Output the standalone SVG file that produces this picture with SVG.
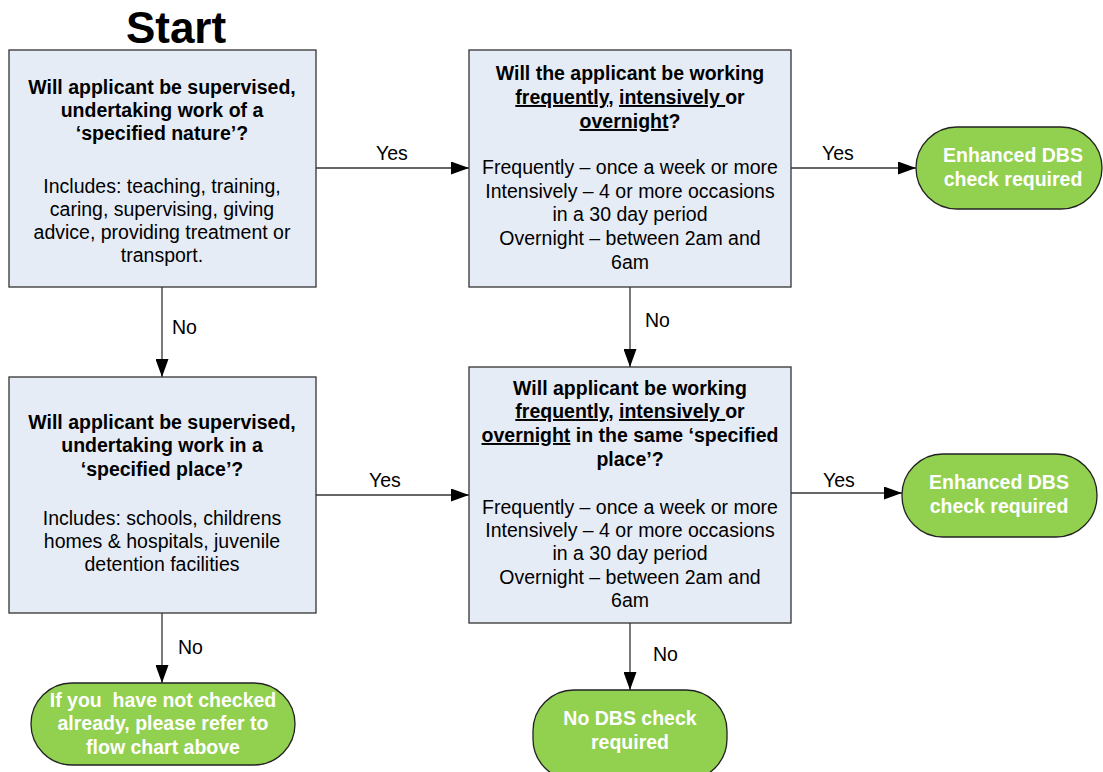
<svg xmlns="http://www.w3.org/2000/svg" width="1103" height="772" viewBox="0 0 1103 772">
<style>
.box{fill:#E6ECF6;stroke:#333;stroke-width:1.3}
.term{fill:#92D050;stroke:#222;stroke-width:1.3}
text{font-family:"Liberation Sans",Arial,sans-serif;font-size:19.5px;fill:#000;text-anchor:middle}
.b{font-weight:bold}
.w{font-weight:bold;fill:#fff}
.lbl{text-anchor:start}
.conn{stroke:#333;stroke-width:1.3;fill:none;marker-end:url(#ah)}
</style>
<defs>
<marker id="ah" markerWidth="18" markerHeight="13" refX="18" refY="6.5" viewBox="0 0 18 13" markerUnits="userSpaceOnUse" orient="auto">
<path d="M0,0 L18,6.5 L0,13 z" fill="#000"/>
</marker>
</defs>
<rect width="1103" height="772" fill="#fff"/>
<text x="176" y="43" class="b" style="font-size:44px">Start</text>

<g id="connectors">
<path class="conn" d="M316,168 H469"/>
<path class="conn" d="M791,168 H916"/>
<path class="conn" d="M162,287 V377"/>
<path class="conn" d="M630,287 V367"/>
<path class="conn" d="M316,495 H469"/>
<path class="conn" d="M791,493 H902"/>
<path class="conn" d="M162,613 V683"/>
<path class="conn" d="M630,623 V690"/>
<text x="376" y="160" class="lbl">Yes</text>
<text x="822" y="160" class="lbl">Yes</text>
<text x="172" y="334" class="lbl">No</text>
<text x="645" y="327" class="lbl">No</text>
<text x="369" y="487" class="lbl">Yes</text>
<text x="823" y="487" class="lbl">Yes</text>
<text x="178" y="654" class="lbl">No</text>
<text x="653" y="661" class="lbl">No</text>
</g>

<g id="q1">
<rect class="box" x="9" y="50" width="307" height="237"/>
<text class="b"><tspan x="162" y="94">Will applicant be supervised,</tspan><tspan x="162" y="117">undertaking work of a</tspan><tspan x="162" y="140">‘specified nature’?</tspan></text>
<text><tspan x="162" y="193">Includes: teaching, training,</tspan><tspan x="162" y="216">caring, supervising, giving</tspan><tspan x="162" y="239">advice, providing treatment or</tspan><tspan x="162" y="262">transport.</tspan></text>
</g>

<g id="q2">
<rect class="box" x="469" y="50" width="322" height="237"/>
<text class="b"><tspan x="630" y="80">Will the applicant be working</tspan><tspan x="630" y="104"><tspan text-decoration="underline">frequently</tspan>, <tspan text-decoration="underline">intensively </tspan>or</tspan><tspan x="630" y="128"><tspan text-decoration="underline">overnight</tspan>?</tspan></text>
<text><tspan x="630" y="174">Frequently – once a week or more</tspan><tspan x="630" y="198">Intensively – 4 or more occasions</tspan><tspan x="630" y="221">in a 30 day period</tspan><tspan x="630" y="245">Overnight – between 2am and</tspan><tspan x="630" y="269">6am</tspan></text>
</g>

<g id="t1">
<rect class="term" x="916" y="127" width="186" height="82" rx="41"/>
<text class="w"><tspan x="1013" y="162">Enhanced DBS</tspan><tspan x="1013" y="186">check required</tspan></text>
</g>

<g id="q3">
<rect class="box" x="9" y="377" width="307" height="236"/>
<text class="b"><tspan x="162" y="429">Will applicant be supervised,</tspan><tspan x="162" y="452">undertaking work in a</tspan><tspan x="162" y="476">‘specified place’?</tspan></text>
<text><tspan x="162" y="525">Includes: schools, childrens</tspan><tspan x="162" y="548">homes &amp; hospitals, juvenile</tspan><tspan x="162" y="571">detention facilities</tspan></text>
</g>

<g id="q4">
<rect class="box" x="469" y="367" width="322" height="256"/>
<text class="b"><tspan x="630" y="395">Will applicant be working</tspan><tspan x="630" y="418"><tspan text-decoration="underline">frequently</tspan>, <tspan text-decoration="underline">intensively </tspan>or</tspan><tspan x="630" y="442"><tspan text-decoration="underline">overnight</tspan> in the same ‘specified</tspan><tspan x="630" y="466">place’?</tspan></text>
<text><tspan x="630" y="514">Frequently – once a week or more</tspan><tspan x="630" y="537">Intensively – 4 or more occasions</tspan><tspan x="630" y="560">in a 30 day period</tspan><tspan x="630" y="584">Overnight – between 2am and</tspan><tspan x="630" y="607">6am</tspan></text>
</g>

<g id="t2">
<rect class="term" x="902" y="454" width="195" height="83" rx="41"/>
<text class="w"><tspan x="999" y="489">Enhanced DBS</tspan><tspan x="999" y="513">check required</tspan></text>
</g>

<g id="t3">
<rect class="term" x="31" y="683" width="264" height="82" rx="41"/>
<text class="w"><tspan x="163" y="707">If you&#160; have not checked</tspan><tspan x="163" y="730">already, please refer to</tspan><tspan x="163" y="754">flow chart above</tspan></text>
</g>

<g id="t4">
<rect class="term" x="533" y="690" width="194" height="90" rx="41"/>
<text class="w"><tspan x="630" y="725">No DBS check</tspan><tspan x="630" y="749">required</tspan></text>
</g>
</svg>
